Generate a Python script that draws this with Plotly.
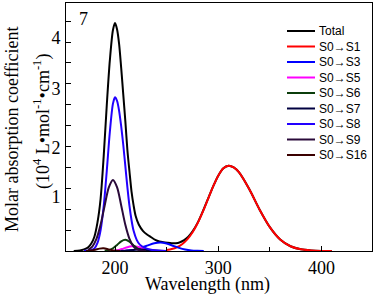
import plotly.graph_objects as go

# ---------------- data (wavelength in nm, molar absorption coefficient in 10^4 units) -------------
total_wl = [160, 166, 170, 174, 177, 180, 183, 186, 189, 192, 195, 198, 200, 202, 204, 206, 208, 210,
            212, 214, 216, 218, 220, 223, 227, 231, 235, 239, 243, 247, 251, 255, 259, 263, 267, 271,
            275, 280, 285, 290, 295, 300, 305, 310, 315, 320, 330, 340, 350, 360, 370, 380, 390, 400, 410]
total_val = [0, 0.01, 0.03, 0.07, 0.14, 0.27, 0.54, 0.98, 1.78, 2.75, 3.6, 4.17, 4.3, 4.18, 3.9, 3.45,
             2.95, 2.45, 1.9, 1.5, 1.12, 0.86, 0.66, 0.5, 0.38, 0.31, 0.26, 0.21, 0.18, 0.165, 0.155,
             0.147, 0.145, 0.165, 0.205, 0.27, 0.365, 0.53, 0.745, 0.98, 1.215, 1.421, 1.561, 1.61,
             1.578, 1.486, 1.169, 0.784, 0.45, 0.218, 0.09, 0.032, 0.01, 0.002, 0]

s1_wl = [250, 255, 260, 265, 270, 275, 280, 285, 290, 295, 300, 305, 310, 315, 320, 330, 340, 350,
         360, 370, 380, 390, 400, 410]
s1_val = [0.018, 0.037, 0.071, 0.128, 0.218, 0.348, 0.523, 0.737, 0.977, 1.215, 1.421, 1.561, 1.61,
          1.578, 1.486, 1.169, 0.784, 0.45, 0.218, 0.09, 0.032, 0.01, 0.002, 0]

s3_wl = [210, 214, 220, 226, 232, 238, 244, 250, 256, 262, 268, 274, 280, 286]
s3_val = [0.004, 0.012, 0.031, 0.064, 0.107, 0.146, 0.16, 0.142, 0.10, 0.059, 0.028, 0.01, 0.003, 0]

s5_wl = [200, 204, 208, 212, 216, 218, 222, 226, 230, 234, 238, 242, 246]
s5_val = [0.008, 0.02, 0.045, 0.07, 0.088, 0.09, 0.08, 0.06, 0.035, 0.017, 0.006, 0.002, 0]

s6_wl = [190, 194, 198, 202, 206, 210, 214, 218, 222, 226, 230, 234]
s6_val = [0.003, 0.017, 0.052, 0.115, 0.183, 0.21, 0.174, 0.105, 0.045, 0.014, 0.003, 0]

s7_wl = [205, 212, 218, 224, 230, 236, 242, 248]
s7_val = [0, 0.008, 0.02, 0.03, 0.025, 0.012, 0.004, 0]

s8_wl = [170, 175, 180, 183, 186, 189, 192, 195, 198, 200, 202, 204, 206, 208, 210, 212, 214, 216,
         218, 221, 224, 229, 235, 242, 250]
s8_val = [0.003, 0.012, 0.049, 0.152, 0.39, 0.84, 1.51, 2.25, 2.78, 2.9, 2.83, 2.64, 2.35, 2.0, 1.6,
          1.2, 0.85, 0.58, 0.38, 0.21, 0.12, 0.06, 0.025, 0.008, 0]

s9_wl = [174, 178, 182, 186, 190, 194, 198, 202, 206, 210, 214, 218, 222, 226, 230]
s9_val = [0.02, 0.084, 0.228, 0.494, 0.86, 1.2, 1.34, 1.2, 0.86, 0.494, 0.228, 0.084, 0.025, 0.006, 0]

s16_wl = [172, 177, 181, 185, 189, 193, 197, 201, 205]
s16_val = [0, 0.008, 0.025, 0.045, 0.05, 0.035, 0.015, 0.004, 0]

series_names = ["Total", "S0→S1", "S0→S3", "S0→S5", "S0→S6", "S0→S7", "S0→S8", "S0→S9", "S0→S16"]
x_tick_vals = [200, 300, 400]
x_tick_text = ["200", "300", "400"]
y_tick_text = ["1", "2", "3", "4"]

# ---------------- styling -------------
colors = ["#000000", "#ff0000", "#0000ff", "#ff00ff", "#0b3d0b", "#000040", "#2200ff", "#2a0a3a", "#3a0000"]
series_data = [(total_wl, total_val), (s1_wl, s1_val), (s3_wl, s3_val), (s5_wl, s5_val),
               (s6_wl, s6_val), (s7_wl, s7_val), (s8_wl, s8_val), (s9_wl, s9_val), (s16_wl, s16_val)]

W, H = 374, 295
L, R, T, B = 66, 372, 3, 251


def px(x):
    return (x - L) / (R - L)


def py(y):
    return (B - y) / (B - T)


SERIF = "Liberation Serif"
SANS = "Liberation Sans"

fig = go.Figure()
for name, (wl, val), c in zip(series_names, series_data, colors):
    fig.add_trace(go.Scatter(x=wl, y=val, mode="lines", name=name, showlegend=False, hoverinfo="skip",
                             line=dict(color=c, width=2, shape="spline", smoothing=0.8)))

# compact legend like the reference
for i, (name, c) in enumerate(zip(series_names, colors)):
    yc = 31 + 15.5 * i
    fig.add_shape(type="line", xref="paper", yref="paper", x0=px(287), x1=px(315), y0=py(yc), y1=py(yc),
                  line=dict(color=c, width=2))
    fig.add_annotation(xref="paper", yref="paper", x=px(317), y=py(yc), text=name, showarrow=False,
                       xanchor="left", yanchor="middle", font=dict(family=SANS, size=12, color="black"))

fig.add_annotation(xref="paper", yref="paper", x=px(83.5), y=py(19), text="7", showarrow=False,
                   xanchor="center", yanchor="middle", font=dict(family=SERIF, size=18, color="black"))
fig.add_annotation(xref="paper", yref="paper", x=px(12), y=py(129), text="Molar absorption coefficient",
                   textangle=-90, showarrow=False, xanchor="center", yanchor="middle",
                   font=dict(family=SERIF, size=18, color="black"))
fig.add_annotation(xref="paper", yref="paper", x=px(42), y=py(122),
                   text="(10<sup>4</sup> L•mol<sup>-1</sup>•cm<sup>-1</sup>)",
                   textangle=-90, showarrow=False, xanchor="center", yanchor="middle",
                   font=dict(family=SERIF, size=18, color="black"))
fig.add_annotation(xref="paper", yref="paper", x=px(207), y=py(284), text="Wavelength (nm)",
                   showarrow=False, xanchor="center", yanchor="middle",
                   font=dict(family=SERIF, size=18, color="black"))

YMAX = (B - T) / 53.0
fig.update_layout(
    width=W, height=H,
    margin=dict(l=L, r=W - R, t=T, b=H - B),
    paper_bgcolor="white", plot_bgcolor="white",
    xaxis=dict(range=[152.5, 449], tickmode="array", tickvals=x_tick_vals, ticktext=x_tick_text,
               ticks="inside", ticklen=5, tickwidth=1, tickcolor="black",
               minor=dict(tickmode="linear", tick0=0, dtick=50, ticks="inside", ticklen=4,
                          tickwidth=1, tickcolor="black", showgrid=False),
               showline=True, mirror=True, linecolor="black", linewidth=1,
               showgrid=False, zeroline=False,
               tickfont=dict(family=SERIF, size=18, color="black")),
    yaxis=dict(range=[0, YMAX], tickmode="array", tickvals=[1.02, 1.95, 3.07, 4.03], ticktext=y_tick_text,
               ticks="", ticklabelstandoff=1,
               minor=dict(tickmode="linear", tick0=0, dtick=20.9 / 53.0, ticks="inside", ticklen=5,
                          tickwidth=1, tickcolor="black", showgrid=False),
               showline=True, mirror=True, linecolor="black", linewidth=1,
               showgrid=False, zeroline=False,
               tickfont=dict(family=SERIF, size=18, color="black")),
)

fig.write_html("out.html", config={"displayModeBar": False},
               post_script="document.body.style.margin='0';")
